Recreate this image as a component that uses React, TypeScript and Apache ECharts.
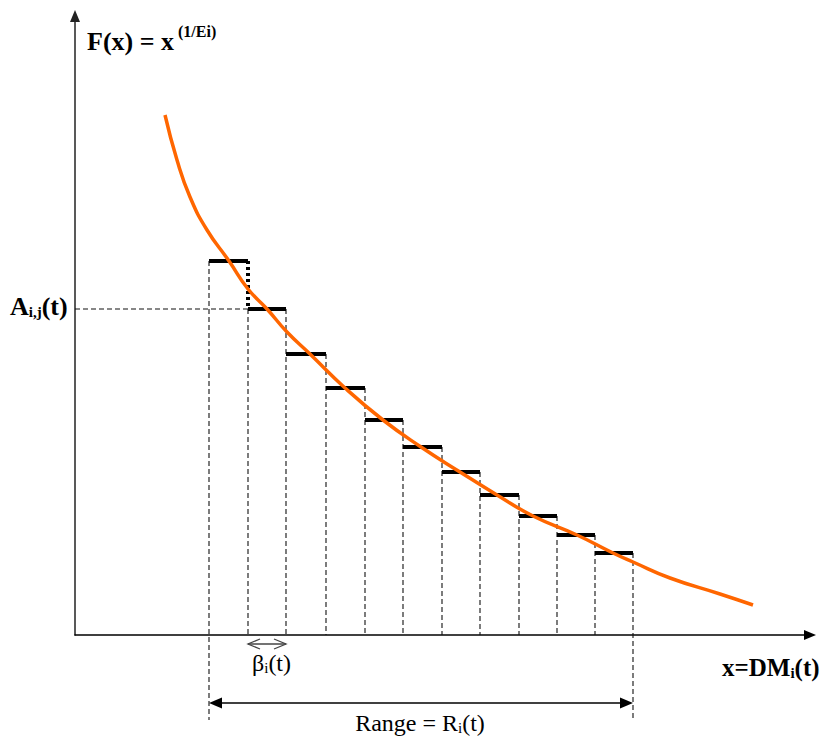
import React, { useEffect, useRef } from 'react';
import * as echarts from 'echarts';

// Orange curve F(x) (x from origin, y up from the x axis)
const curveX = [90, 102, 115, 132, 154, 173, 192, 212, 235, 270, 308, 346, 385, 422, 458, 502, 538, 558, 595, 645, 678];
const curveY = [520, 475, 438, 405, 374, 346, 326, 303, 281, 247, 215, 188, 163, 140, 119, 100, 82, 73, 57, 41, 30];

// Step approximation: bin edges on x and the level of each step
const stepEdges = [134, 173, 211, 251, 290, 328, 367, 405, 444, 482, 520, 558];
const stepLevels = [374, 326, 281, 247, 215, 188, 163, 140, 119, 100, 82];

// Annotation values
const markedStep = 1; // step whose level is A_i,j(t)
const betaArrowY = -9;
const rangeArrowY = -68;
const guideBottom = -85;
const xMax = 735;
const yMax = 619;

const serif = 'Liberation Serif';

export default function App() {
  const ref = useRef<HTMLDivElement>(null);

  useEffect(() => {
    if (!ref.current) return;
    const chart = echarts.init(ref.current, undefined, { renderer: 'svg' });

    const segs: number[][] = [];
    const n = stepLevels.length;
    segs.push([stepEdges[0], stepLevels[0], stepEdges[0], guideBottom, 1]);
    segs.push([stepEdges[markedStep], stepLevels[markedStep], stepEdges[markedStep], 0, 1]);
    for (let k = 2; k < n; k++) {
      segs.push([stepEdges[k], stepLevels[k - 1], stepEdges[k], 0, 1]);
    }
    segs.push([stepEdges[n], stepLevels[n - 1], stepEdges[n], guideBottom, 1]);
    segs.push([0, stepLevels[markedStep], stepEdges[markedStep], stepLevels[markedStep], 1]);
    segs.push([stepEdges[markedStep], stepLevels[0], stepEdges[markedStep], stepLevels[markedStep], 2]);
    for (let i = 0; i < n; i++) {
      segs.push([stepEdges[i], stepLevels[i], stepEdges[i + 1], stepLevels[i], 0]);
    }

    const segStyles: any[] = [
      { stroke: '#000', lineWidth: 4, lineCap: 'butt' },
      { stroke: '#111', lineWidth: 1.1, lineDash: [5, 3] },
      { stroke: '#000', lineWidth: 4, lineDash: [3, 3] },
    ];

    const mk = (size: number, bold: boolean, extra: any = {}) => ({
      fontSize: size,
      fontWeight: bold ? 'bold' : 'normal',
      fontFamily: serif,
      fill: '#000',
      ...extra,
    });

    const option: any = {
      animation: false,
      textStyle: { fontFamily: serif },
      grid: { left: 75, top: 16, right: 13, bottom: 103 },
      xAxis: {
        type: 'value',
        min: 0,
        max: xMax,
        axisLine: {
          show: true,
          onZero: true,
          symbol: ['none', 'triangle'],
          symbolSize: [10, 12],
          lineStyle: { color: '#000', width: 1.5 },
        },
        axisTick: { show: false },
        axisLabel: { show: false },
        splitLine: { show: false },
      },
      yAxis: {
        type: 'value',
        min: 0,
        max: yMax,
        axisLine: {
          show: true,
          onZero: true,
          symbol: ['none', 'triangle'],
          symbolSize: [10, 12],
          lineStyle: { color: '#222', width: 1.5 },
        },
        axisTick: { show: false },
        axisLabel: { show: false },
        splitLine: { show: false },
      },
      series: [
        {
          type: 'custom',
          silent: true,
          z: 2,
          clip: false,
          data: segs,
          renderItem: (_p: any, api: any) => {
            const a = api.coord([api.value(0), api.value(1)]);
            const b = api.coord([api.value(2), api.value(3)]);
            const kind = api.value(4);
            return {
              type: 'line',
              shape: { x1: a[0], y1: a[1], x2: b[0], y2: b[1] },
              style: segStyles[kind],
            };
          },
        },
        {
          type: 'custom',
          silent: true,
          z: 2,
          clip: false,
          data: [[stepEdges[0], stepEdges[n], rangeArrowY]],
          renderItem: (_p: any, api: any) => {
            const a = api.coord([api.value(0), api.value(2)]);
            const b = api.coord([api.value(1), api.value(2)]);
            const L = 13, H = 5.5;
            return {
              type: 'group',
              children: [
                { type: 'line', shape: { x1: a[0] + 4, y1: a[1], x2: b[0] - 4, y2: b[1] }, style: { stroke: '#000', lineWidth: 1.5 } },
                { type: 'polygon', shape: { points: [[a[0], a[1]], [a[0] + L, a[1] - H], [a[0] + L, a[1] + H]] }, style: { fill: '#000' } },
                { type: 'polygon', shape: { points: [[b[0], b[1]], [b[0] - L, b[1] - H], [b[0] - L, b[1] + H]] }, style: { fill: '#000' } },
              ],
            };
          },
        },
        {
          type: 'custom',
          silent: true,
          z: 2,
          clip: false,
          data: [[stepEdges[markedStep], stepEdges[markedStep + 1], betaArrowY]],
          renderItem: (_p: any, api: any) => {
            const a = api.coord([api.value(0), api.value(2)]);
            const b = api.coord([api.value(1), api.value(2)]);
            const L = 12, H = 5;
            const st = { stroke: '#444', lineWidth: 1.3, fill: 'none' };
            return {
              type: 'group',
              children: [
                { type: 'line', shape: { x1: a[0], y1: a[1], x2: b[0], y2: b[1] }, style: st },
                { type: 'polyline', shape: { points: [[a[0] + L, a[1] - H], [a[0], a[1]], [a[0] + L, a[1] + H]] }, style: st },
                { type: 'polyline', shape: { points: [[b[0] - L, b[1] - H], [b[0], b[1]], [b[0] - L, b[1] + H]] }, style: st },
              ],
            };
          },
        },
        {
          type: 'line',
          silent: true,
          z: 3,
          data: curveX.map((x, i) => [x, curveY[i]]),
          showSymbol: false,
          smooth: 0.5,
          lineStyle: { color: '#FF6600', width: 3.5 },
        },
      ],
      graphic: [
        {
          type: 'text',
          x: 87,
          y: 41.5,
          style: {
            text: '{m|F(x) = x}{p|(1/Ei)}',
            fontFamily: serif,
            verticalAlign: 'middle',
            fill: '#000',
            rich: {
              m: mk(26, true, { lineHeight: 36 }),
              p: mk(16, true, { lineHeight: 16, verticalAlign: 'top', padding: [0, 0, 0, 4] }),
            },
          },
        },
        {
          type: 'text',
          x: 10,
          y: 306,
          style: {
            text: '{m|A}{s|i,j}{m|(t)}',
            fontFamily: serif,
            verticalAlign: 'middle',
            fill: '#000',
            rich: {
              m: mk(26, true, { lineHeight: 26 }),
              s: mk(15, true, { lineHeight: 10, verticalAlign: 'bottom' }),
            },
          },
        },
        {
          type: 'text',
          x: 722,
          y: 667,
          style: {
            text: '{m|x=DM}{s|i}{m|(t)}',
            fontFamily: serif,
            verticalAlign: 'middle',
            fill: '#000',
            rich: {
              m: mk(25, true, { lineHeight: 26 }),
              s: mk(15, true, { lineHeight: 12, verticalAlign: 'bottom' }),
            },
          },
        },
        {
          type: 'text',
          x: 252,
          y: 663,
          style: {
            text: '{m|β}{s|i}{m|(t)}',
            fontFamily: serif,
            verticalAlign: 'middle',
            fill: '#000',
            rich: {
              m: mk(24, false, { lineHeight: 24 }),
              s: mk(15, false, { lineHeight: 10, verticalAlign: 'bottom' }),
            },
          },
        },
        {
          type: 'text',
          x: 420,
          y: 723,
          style: {
            text: '{m|Range = R}{s|i}{m|(t)}',
            fontFamily: serif,
            align: 'center',
            verticalAlign: 'middle',
            fill: '#000',
            rich: {
              m: mk(24, false, { lineHeight: 24 }),
              s: mk(15, false, { lineHeight: 10, verticalAlign: 'bottom' }),
            },
          },
        },
      ],
    };

    chart.setOption(option);
    return () => chart.dispose();
  }, []);

  return (
    <div
      ref={ref}
      style={{ position: 'fixed', left: 0, top: 0, width: 823, height: 738, background: '#fff' }}
    />
  );
}
